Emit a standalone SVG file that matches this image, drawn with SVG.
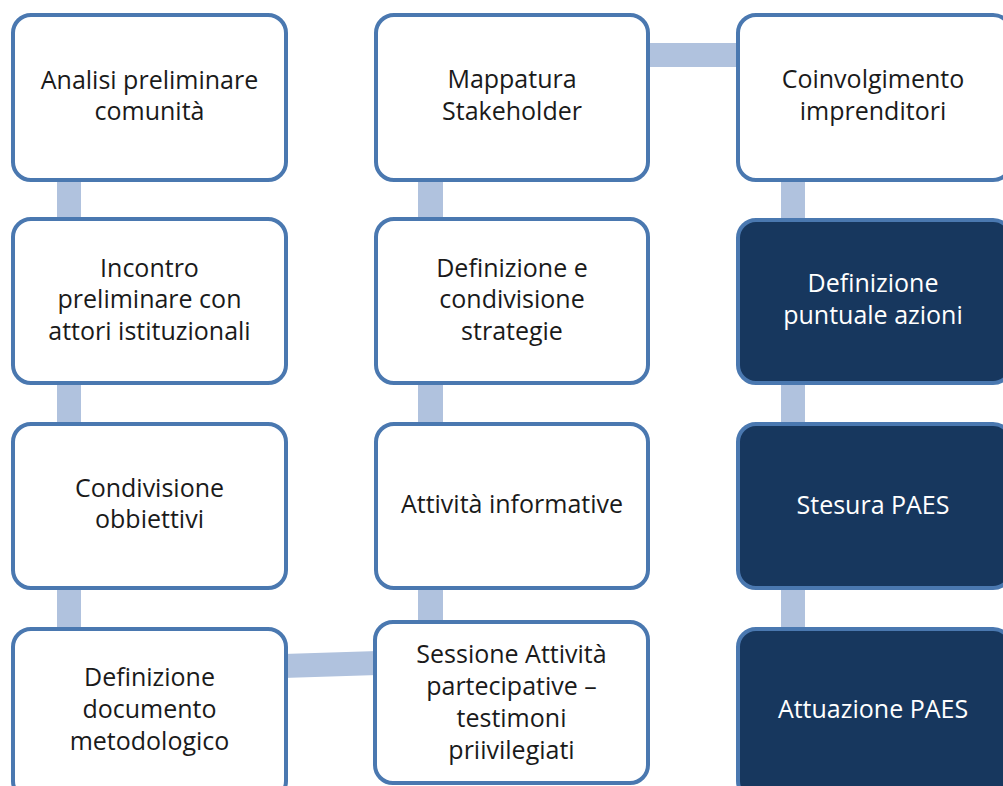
<svg xmlns="http://www.w3.org/2000/svg" width="1003" height="786" viewBox="0 0 1003 786">
<style>
.box{fill:#ffffff;stroke:#4a78b0;stroke-width:4}
.dark{fill:#17375e;stroke:#4a78b0;stroke-width:4}
.conn{fill:#b0c2de}
text{font-family:"Open Sans","Liberation Sans",sans-serif;font-size:25px;text-anchor:middle;fill:#1a1a1a}
.w{fill:#ffffff}
</style>
<rect width="1003" height="786" fill="#ffffff"/>
<g id="connectors">
<rect class="conn" x="57" y="178" width="24" height="44"/>
<rect class="conn" x="57" y="381" width="24" height="46"/>
<rect class="conn" x="57" y="586" width="24" height="46"/>
<rect class="conn" x="418" y="178" width="25" height="44"/>
<rect class="conn" x="418" y="381" width="25" height="46"/>
<rect class="conn" x="418" y="586" width="25" height="40"/>
<rect class="conn" x="781" y="178" width="24" height="44"/>
<rect class="conn" x="781" y="381" width="24" height="46"/>
<rect class="conn" x="781" y="586" width="24" height="46"/>
<rect class="conn" x="646" y="43" width="95" height="24"/>
<polygon class="conn" points="283,654 378,651 378,675 283,678"/>
</g>
<g id="n1"><rect class="box" x="13" y="15" width="273" height="165" rx="18"/>
<text x="149.5" y="89">Analisi preliminare</text><text x="149.5" y="120">comunità</text></g>
<g id="n2"><rect class="box" x="13" y="219" width="273" height="164" rx="18"/>
<text x="149.5" y="277">Incontro</text><text x="149.5" y="308">preliminare con</text><text x="149.5" y="340">attori istituzionali</text></g>
<g id="n3"><rect class="box" x="13" y="424" width="273" height="164" rx="18"/>
<text x="149.5" y="497">Condivisione</text><text x="149.5" y="528">obbiettivi</text></g>
<g id="n4"><rect class="box" x="13" y="629" width="273" height="170" rx="18"/>
<text x="149.5" y="686">Definizione</text><text x="149.5" y="718">documento</text><text x="149.5" y="750">metodologico</text></g>
<g id="n5"><rect class="box" x="376" y="15" width="272" height="165" rx="18"/>
<text x="512" y="88">Mappatura</text><text x="512" y="120">Stakeholder</text></g>
<g id="n6"><rect class="box" x="376" y="219" width="272" height="164" rx="18"/>
<text x="512" y="277">Definizione e</text><text x="512" y="308">condivisione</text><text x="512" y="340">strategie</text></g>
<g id="n7"><rect class="box" x="376" y="424" width="272" height="164" rx="18"/>
<text x="512" y="513">Attività informative</text></g>
<g id="n8"><rect class="box" x="375" y="622" width="273" height="161" rx="18"/>
<text x="511.5" y="663">Sessione Attività</text><text x="511.5" y="695">partecipative –</text><text x="511.5" y="727">testimoni</text><text x="511.5" y="759">priivilegiati</text></g>
<g id="n9"><rect class="box" x="738" y="15" width="273" height="165" rx="18"/>
<text x="873" y="88">Coinvolgimento</text><text x="873" y="120">imprenditori</text></g>
<g id="n10"><rect class="dark" x="738" y="220" width="273" height="163" rx="18"/>
<text class="w" x="873" y="292">Definizione</text><text class="w" x="873" y="324">puntuale azioni</text></g>
<g id="n11"><rect class="dark" x="738" y="424" width="273" height="164" rx="18"/>
<text class="w" x="873" y="514">Stesura PAES</text></g>
<g id="n12"><rect class="dark" x="738" y="629" width="273" height="170" rx="18"/>
<text class="w" x="873" y="718">Attuazione PAES</text></g>
</svg>
